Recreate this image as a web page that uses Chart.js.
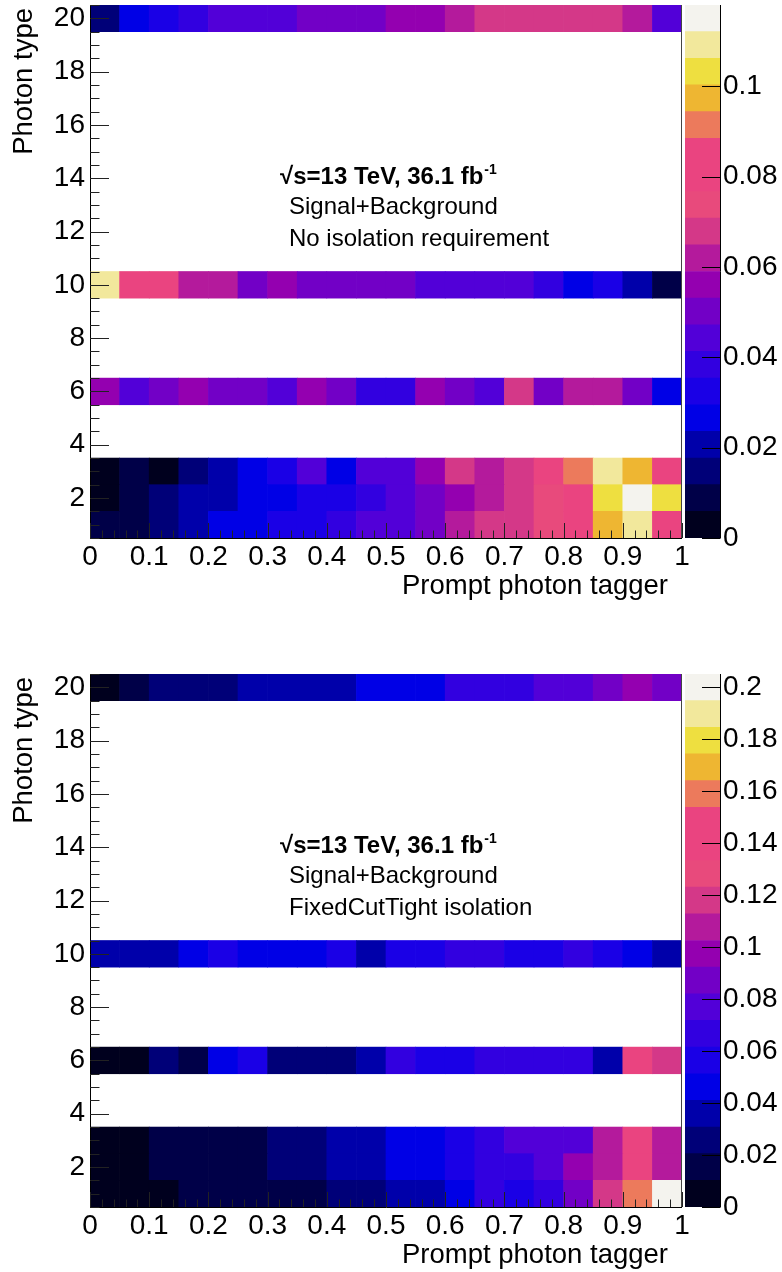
<!DOCTYPE html>
<html lang="en">
<head>
<meta charset="UTF-8">
<title>Photon type vs prompt photon tagger</title>
<script src="https://cdn.jsdelivr.net/npm/chart.js"></script>
<style>
  body { margin: 0; background: #fff; }
  .panel { position: absolute; left: 0; width: 782px; height: 600px; }
  .panel canvas { position: absolute; top: 0; }
</style>
</head>
<body>
<div class="panel" style="top:0px">
  <canvas id="map1" width="700" height="600" style="left:0px"></canvas>
  <canvas id="bar1" width="102" height="600" style="left:680px"></canvas>
</div>
<div class="panel" style="top:669px">
  <canvas id="map2" width="700" height="600" style="left:0px"></canvas>
  <canvas id="bar2" width="102" height="600" style="left:680px"></canvas>
</div>
<script>
// bins of the prompt photon tagger (centres) and the filled photon types
const binCenters = [0.025, 0.075, 0.125, 0.175, 0.225, 0.275, 0.325, 0.375, 0.425, 0.475,
                    0.525, 0.575, 0.625, 0.675, 0.725, 0.775, 0.825, 0.875, 0.925, 0.975];
const photonTypes = [1, 2, 3, 6, 10, 20];

// no isolation requirement
const noIso1  = [0.009,0.009,0.015,0.021,0.027,0.027,0.032,0.032,0.038,0.044,0.044,0.050,0.062,0.068,0.068,0.074,0.080,0.097,0.109,0.080];
const noIso2  = [0.003,0.009,0.015,0.021,0.021,0.027,0.027,0.032,0.032,0.038,0.044,0.050,0.056,0.062,0.068,0.074,0.080,0.103,0.117,0.103];
const noIso3  = [0.003,0.009,0.003,0.015,0.021,0.027,0.032,0.044,0.027,0.044,0.044,0.056,0.068,0.062,0.068,0.080,0.091,0.109,0.097,0.080];
const noIso6  = [0.056,0.044,0.050,0.056,0.050,0.050,0.044,0.056,0.050,0.038,0.038,0.056,0.050,0.044,0.068,0.050,0.062,0.062,0.050,0.027];
const noIso10 = [0.109,0.080,0.080,0.062,0.062,0.050,0.056,0.050,0.050,0.050,0.050,0.044,0.044,0.044,0.044,0.038,0.027,0.032,0.021,0.009];
const noIso20 = [0.015,0.027,0.032,0.038,0.044,0.044,0.044,0.050,0.050,0.050,0.056,0.056,0.062,0.068,0.068,0.068,0.068,0.068,0.062,0.044];

// FixedCutTight isolation
const tight1  = [0.005,0.005,0.005,0.015,0.015,0.015,0.015,0.015,0.026,0.026,0.036,0.036,0.046,0.067,0.056,0.067,0.087,0.118,0.159,0.204];
const tight2  = [0.005,0.005,0.015,0.015,0.015,0.015,0.026,0.026,0.036,0.036,0.046,0.046,0.056,0.067,0.067,0.077,0.097,0.108,0.138,0.108];
const tight3  = [0.005,0.005,0.015,0.015,0.015,0.015,0.026,0.026,0.036,0.036,0.046,0.046,0.056,0.067,0.077,0.077,0.077,0.108,0.138,0.108];
const tight6  = [0.005,0.005,0.026,0.015,0.046,0.056,0.026,0.026,0.026,0.036,0.067,0.056,0.056,0.067,0.067,0.067,0.067,0.036,0.138,0.118];
const tight10 = [0.036,0.036,0.036,0.046,0.056,0.046,0.046,0.046,0.056,0.036,0.056,0.056,0.067,0.067,0.056,0.056,0.067,0.056,0.046,0.036];
const tight20 = [0.005,0.015,0.026,0.026,0.026,0.036,0.036,0.036,0.036,0.046,0.046,0.046,0.067,0.067,0.067,0.077,0.077,0.087,0.097,0.087];

const zMaxNoIso = 0.118;
const zMaxTight = 0.205;

const xTicks = ['0', '0.1', '0.2', '0.3', '0.4', '0.5', '0.6', '0.7', '0.8', '0.9', '1'];
const yTicks = ['2', '4', '6', '8', '10', '12', '14', '16', '18', '20'];
const zTicksNoIso = ['0', '0.02', '0.04', '0.06', '0.08', '0.1'];
const zTicksTight = ['0', '0.02', '0.04', '0.06', '0.08', '0.1', '0.12', '0.14', '0.16', '0.18', '0.2'];

// 20 colour levels, low to high
const palette = ['#00001e', '#000048', '#000078', '#0000aa', '#0000e6', '#1a00e6', '#3200e0', '#5200d8',
                 '#7200c6', '#9400b0', '#b41a9c', '#d43888', '#e84a7c', '#ea4480', '#ea4480', '#ec7a5c',
                 '#eeb632', '#eedf40', '#f2e89c', '#f4f3ee'];

const FONT = "'Liberation Sans', Arial, Helvetica, sans-serif";
Chart.defaults.font.family = FONT;
Chart.defaults.color = '#000';

function levelColor(v, zMax) {
  const i = Math.min(palette.length - 1, Math.floor(v / zMax * palette.length));
  return palette[i];
}

function drawMap(id, rows, zMax, note) {
  const frame = {
    id: 'frame',
    afterDraw(chart) {
      const { ctx, chartArea: a, scales: { x, y } } = chart;
      ctx.save();
      ctx.lineWidth = 1;
      ctx.strokeStyle = '#000';
      ctx.beginPath();
      ctx.moveTo(a.left + 0.5, a.top);
      ctx.lineTo(a.left + 0.5, a.bottom + 0.5);
      ctx.lineTo(a.right, a.bottom + 0.5);
      ctx.stroke();
      ctx.strokeStyle = '#444';
      ctx.beginPath();
      ctx.moveTo(a.right - 0.5, a.top);
      ctx.lineTo(a.right - 0.5, a.bottom);
      ctx.stroke();

      // ticks point into the frame, ROOT style
      ctx.strokeStyle = '#222';
      ctx.beginPath();
      for (let k = 0; k <= 50; k++) {
        const px = Math.round(x.getPixelForValue(k / 50)) + 0.5;
        const len = k % 5 === 0 ? 15 : 7.5;
        ctx.moveTo(px, a.bottom);
        ctx.lineTo(px, a.bottom - len);
      }
      for (let k = 1; k <= 41; k++) {
        const v = k * 0.5;
        const py = Math.round(y.getPixelForValue(v)) + 0.5;
        const len = v % 2 === 0 ? 19 : 9.5;
        ctx.moveTo(a.left, py);
        ctx.lineTo(a.left + len, py);
      }
      ctx.stroke();

      // axis titles
      ctx.fillStyle = '#000';
      ctx.font = '27.5px ' + FONT;
      ctx.textAlign = 'right';
      ctx.textBaseline = 'alphabetic';
      ctx.fillText('Prompt photon tagger', 668, a.bottom + 56);
      ctx.save();
      ctx.translate(32, a.top + 3);
      ctx.rotate(-Math.PI / 2);
      ctx.fillText('Photon type', 0, 0);
      ctx.restore();

      // labels
      ctx.textAlign = 'left';
      ctx.font = 'bold 24px ' + FONT;
      const head = '\u221As=13 TeV, 36.1 fb';
      ctx.fillText(head, 280, a.top + 179);
      const w = ctx.measureText(head).width;
      ctx.font = 'bold 14px ' + FONT;
      ctx.fillText('-1', 280 + w + 1, a.top + 169);
      ctx.font = '24px ' + FONT;
      ctx.fillText('Signal+Background', 289, a.top + 209);
      ctx.fillText(note, 289, a.top + 241);
      ctx.restore();
    }
  };

  new Chart(document.getElementById(id), {
    type: 'bar',
    data: {
      datasets: photonTypes.map((t, k) => ({
        data: binCenters.map(c => ({ x: c, y: [t - 0.5, t + 0.5] })),
        backgroundColor: rows[k].map(v => levelColor(v, zMax)),
        borderWidth: 0,
        grouped: false,
        barPercentage: 1,
        categoryPercentage: 1
      }))
    },
    options: {
      responsive: false,
      devicePixelRatio: 1,
      animation: false,
      layout: { padding: { top: 5, right: 18, left: 0, bottom: 0 } },
      plugins: { legend: { display: false }, tooltip: { enabled: false } },
      scales: {
        x: {
          type: 'linear', min: 0, max: 1, offset: false,
          grid: { display: false, drawTicks: false, offset: false },
          border: { display: false },
          afterBuildTicks: s => { s.ticks = xTicks.map(t => ({ value: parseFloat(t) })); },
          afterFit: s => { s.height = 62; s.paddingLeft = 0; s.paddingRight = 0; },
          ticks: { font: { size: 28 }, padding: 2, maxRotation: 0, autoSkip: false,
                   callback: (v, i) => xTicks[i] }
        },
        y: {
          type: 'linear', min: 0.5, max: 20.5,
          grid: { display: false, drawTicks: false },
          border: { display: false },
          afterBuildTicks: s => { s.ticks = yTicks.map(t => ({ value: parseFloat(t) })); },
          afterFit: s => { s.width = 90; s.paddingTop = 0; s.paddingBottom = 0; },
          ticks: { font: { size: 28 }, padding: 5, autoSkip: false,
                   callback: (v, i) => yTicks[i] }
        }
      }
    },
    plugins: [frame]
  });
}

function drawPalette(id, zMax, zTicks) {
  const axisLine = {
    id: 'axisLine',
    afterDraw(chart) {
      const { ctx, chartArea: a, scales: { y } } = chart;
      ctx.save();
      ctx.strokeStyle = '#000';
      ctx.lineWidth = 1;
      ctx.beginPath();
      ctx.moveTo(a.right + 0.5, a.top);
      ctx.lineTo(a.right + 0.5, a.bottom + 0.5);
      zTicks.forEach(t => {
        const py = Math.round(y.getPixelForValue(parseFloat(t))) + 0.5;
        ctx.moveTo(a.right - 18, py);
        ctx.lineTo(a.right, py);
      });
      ctx.stroke();
      ctx.restore();
    }
  };

  new Chart(document.getElementById(id), {
    type: 'bar',
    data: {
      labels: ['z'],
      datasets: palette.map((c, i) => ({
        data: [[i * zMax / palette.length, (i + 1) * zMax / palette.length]],
        backgroundColor: c,
        borderWidth: 0,
        grouped: false,
        barPercentage: 1,
        categoryPercentage: 1
      }))
    },
    options: {
      responsive: false,
      devicePixelRatio: 1,
      animation: false,
      layout: { padding: { top: 5, right: 0, left: 5, bottom: 62 } },
      plugins: { legend: { display: false }, tooltip: { enabled: false } },
      scales: {
        x: { display: false },
        y: {
          position: 'right', min: 0, max: zMax,
          grid: { display: false, drawTicks: false },
          border: { display: false },
          afterBuildTicks: s => { s.ticks = zTicks.map(t => ({ value: parseFloat(t) })); },
          afterFit: s => { s.width = 62; s.paddingTop = 0; s.paddingBottom = 0; },
          ticks: { font: { size: 28 }, padding: 3, autoSkip: false,
                   callback: (v, i) => zTicks[i] }
        }
      }
    },
    plugins: [axisLine]
  });
}

drawMap('map1', [noIso1, noIso2, noIso3, noIso6, noIso10, noIso20], zMaxNoIso, 'No isolation requirement');
drawPalette('bar1', zMaxNoIso, zTicksNoIso);
drawMap('map2', [tight1, tight2, tight3, tight6, tight10, tight20], zMaxTight, 'FixedCutTight isolation');
drawPalette('bar2', zMaxTight, zTicksTight);
</script>
</body>
</html>
